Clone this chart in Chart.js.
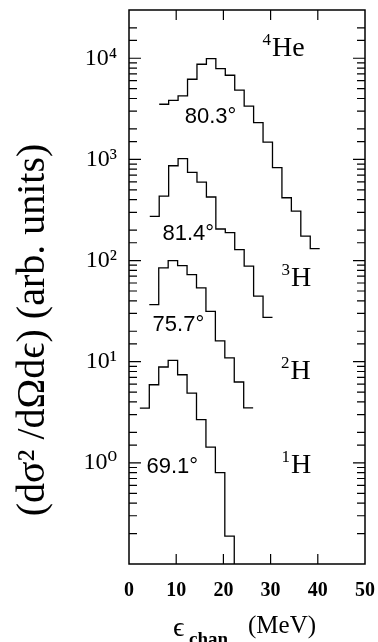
<!DOCTYPE html>
<html>
<head>
<meta charset="utf-8">
<script src="https://cdn.jsdelivr.net/npm/chart.js@4.4.1/dist/chart.umd.min.js"></script>
<style>
  html, body { margin: 0; padding: 0; background: #fff; }
  #wrap { width: 378px; height: 642px; position: relative; }
</style>
</head>
<body>
<div id="wrap"><canvas id="myChart"></canvas></div>
<script>
// all spectra use 2 MeV bins
const binWidth = 2;

// 4He at 80.3 deg
const heStart = 6.4;
const heCounts = [3510, 3840, 4240, 6200, 8730, 9930, 7910, 6790, 4850, 3370, 2310, 1480, 828, 418, 308, 174, 131];

// 3H at 81.4 deg
const tStart = 4.4;
const tCounts = [273, 433, 866, 1016, 743, 596, 425, 205, 189, 128, 88, 44.5, 27.4];

// 2H at 75.7 deg
const dStart = 4.3;
const dCounts = [36.7, 84.7, 100, 89, 72.6, 53.7, 31.5, 16.1, 10.9, 6.3, 3.5];

// 1H at 69.1 deg, last bin drops out of the frame
const pStart = 2.3;
const pCounts = [3.48, 5.92, 8.86, 10.3, 7.43, 4.9, 2.67, 1.43, 0.8, 0.189, 0.01];

const xTicks = [0, 10, 20, 30, 40, 50];
const yDecades = [1, 10, 100, 1000, 10000];
const supDigits = ['⁰', '¹', '²', '³', '⁴'];

const angleLabels = [
    { text: '80.3°', x: 11.8, y: 2270 },
    { text: '81.4°', x: 7.1, y: 161 },
    { text: '75.7°', x: 5.0, y: 19.9 },
    { text: '69.1°', x: 3.7, y: 0.8 }
];
const nucleusLabels = [
    { sup: '4', text: 'He', x: 28.3, y: 10500 },
    { sup: '3', text: 'H', x: 32.3, y: 55.7 },
    { sup: '2', text: 'H', x: 32.2, y: 6.74 },
    { sup: '1', text: 'H', x: 32.3, y: 0.8 }
];

const serif = '"Liberation Serif", "DejaVu Serif", serif';
const sans = '"Liberation Sans", Arial, sans-serif';

function steps(start, counts) {
    const pts = counts.map((c, i) => ({ x: start + i * binWidth, y: c }));
    pts.push({ x: start + counts.length * binWidth, y: counts[counts.length - 1] });
    return pts;
}

function isDecade(v) {
    const l = Math.log10(v);
    return Math.abs(l - Math.round(l)) < 1e-9;
}

function histo(label, start, counts) {
    return {
        label: label,
        data: steps(start, counts),
        borderColor: '#000',
        borderWidth: 1.3,
        pointRadius: 0,
        stepped: 'before',
        fill: false
    };
}

function noPad(s) {
    s.paddingTop = 0;
    s.paddingBottom = 0;
    s.paddingLeft = 0;
    s.paddingRight = 0;
}

// frame, inward ticks on all four sides, texts
const decorate = {
    id: 'decorate',
    afterDraw(chart) {
        const { ctx, chartArea: a, scales: { x, y } } = chart;
        ctx.save();
        ctx.strokeStyle = '#000';
        ctx.lineWidth = 1.2;
        ctx.beginPath();
        x.ticks.forEach(t => {
            const px = x.getPixelForValue(t.value);
            if (px <= a.left + 1 || px >= a.right - 1) return;
            ctx.moveTo(px, a.bottom); ctx.lineTo(px, a.bottom - 10);
            ctx.moveTo(px, a.top); ctx.lineTo(px, a.top + 10);
        });
        y.ticks.forEach(t => {
            const py = y.getPixelForValue(t.value);
            if (py <= a.top + 1 || py >= a.bottom - 1) return;
            const len = isDecade(t.value) ? 12 : 8;
            ctx.moveTo(a.left, py); ctx.lineTo(a.left + len, py);
            ctx.moveTo(a.right, py); ctx.lineTo(a.right - len, py);
        });
        ctx.stroke();
        ctx.lineWidth = 1.5;
        ctx.strokeRect(a.left, a.top, a.right - a.left, a.bottom - a.top);

        ctx.fillStyle = '#000';
        ctx.textBaseline = 'alphabetic';
        ctx.textAlign = 'left';
        ctx.font = '22px ' + sans;
        angleLabels.forEach(l => {
            ctx.fillText(l.text, x.getPixelForValue(l.x), y.getPixelForValue(l.y));
        });
        nucleusLabels.forEach(l => {
            const px = x.getPixelForValue(l.x);
            const py = y.getPixelForValue(l.y);
            ctx.font = '17px ' + serif;
            ctx.fillText(l.sup, px, py - 11);
            const w = ctx.measureText(l.sup).width;
            ctx.font = '28px ' + serif;
            ctx.fillText(l.text, px + w + 1, py);
        });

        // x title with subscript
        ctx.font = '28px ' + serif;
        ctx.fillText('ϵ', 173, 636);
        ctx.font = 'bold 19px ' + serif;
        ctx.fillText('chan', 189, 645);
        ctx.font = '25px ' + serif;
        ctx.fillText('(MeV)', 248, 633);

        // y title
        ctx.translate(33, 330);
        ctx.rotate(-Math.PI / 2);
        ctx.textAlign = 'center';
        ctx.textBaseline = 'middle';
        ctx.font = '40px ' + serif;
        ctx.fillText('(dσ² /dΩdϵ) (arb. units)', 0, 0);
        ctx.restore();
    }
};

const ctx = document.getElementById('myChart').getContext('2d');
new Chart(ctx, {
    type: 'line',
    data: {
        datasets: [
            histo('4He', heStart, heCounts),
            histo('3H', tStart, tCounts),
            histo('2H', dStart, dCounts),
            histo('1H', pStart, pCounts)
        ]
    },
    options: {
        responsive: true,
        maintainAspectRatio: false,
        animation: false,
        layout: { padding: { left: 0, right: 13, top: 10, bottom: 0 } },
        plugins: { legend: { display: false }, tooltip: { enabled: false } },
        scales: {
            x: {
                type: 'linear',
                min: 0,
                max: 50,
                grid: { display: false, drawTicks: false },
                border: { display: false },
                afterBuildTicks: s => { s.ticks = xTicks.map(v => ({ value: v })); },
                ticks: {
                    color: '#000',
                    padding: 15,
                    maxRotation: 0,
                    font: { family: serif, size: 20, weight: 'bold' }
                },
                afterFit: s => { s.height = 78; noPad(s); }
            },
            y: {
                type: 'logarithmic',
                min: 0.1,
                max: 30000,
                grid: { display: false, drawTicks: false },
                border: { display: false },
                ticks: {
                    autoSkip: false,
                    color: '#000',
                    padding: 12,
                    font: { family: serif, size: 24 },
                    callback: v => (isDecade(v) && yDecades.includes(Math.round(v)))
                        ? '10' + supDigits[Math.round(Math.log10(v))] : ''
                },
                afterFit: s => { s.width = 129; noPad(s); }
            }
        }
    },
    plugins: [decorate]
});
</script>
</body>
</html>
